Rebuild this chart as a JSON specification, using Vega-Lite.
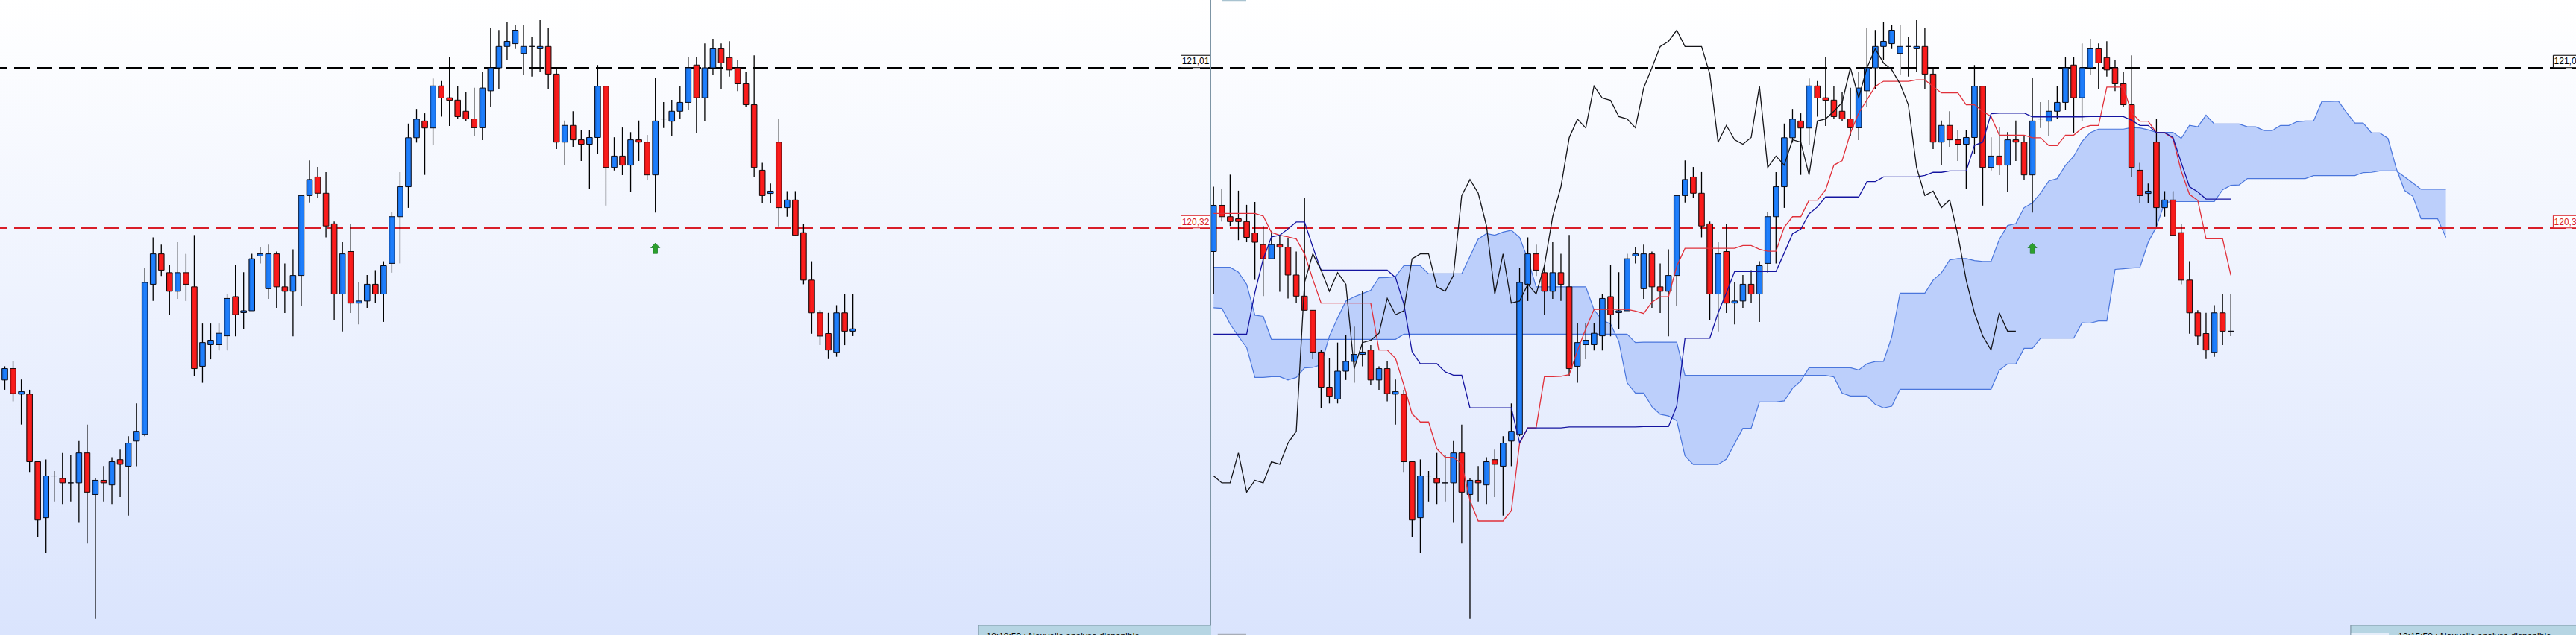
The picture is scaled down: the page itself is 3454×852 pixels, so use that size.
{
  "$schema": "https://vega.github.io/schema/vega-lite/v6.json",
  "padding": 0,
  "spacing": 0,
  "background": "#dbe5fd",
  "config": {
    "view": {"stroke": null},
    "text": {"font": "Liberation Sans"}
  },
  "datasets": {
    "levels": [
      {"price": 121.01, "label": "121,01"},
      {"price": 120.32, "label": "120,32"}
    ],
    "signals": [{"i": 79, "price": 120.233}],
    "candles": [
      {"i": -20, "open": 120.219, "close": 120.418, "high": 120.498, "low": 120.036},
      {"i": -19, "open": 120.418, "close": 120.369, "high": 120.489, "low": 120.348},
      {"i": -18, "open": 120.369, "close": 120.348, "high": 120.550, "low": 120.329},
      {"i": -17, "open": 120.360, "close": 120.348, "high": 120.481, "low": 120.268},
      {"i": -16, "open": 120.348, "close": 120.280, "high": 120.420, "low": 120.259},
      {"i": -15, "open": 120.299, "close": 120.259, "high": 120.432, "low": 120.097},
      {"i": -14, "open": 120.249, "close": 120.188, "high": 120.329, "low": 120.027},
      {"i": -13, "open": 120.188, "close": 120.249, "high": 120.308, "low": 120.188},
      {"i": -12, "open": 120.249, "close": 120.238, "high": 120.289, "low": 120.046},
      {"i": -11, "open": 120.238, "close": 120.118, "high": 120.278, "low": 120.017},
      {"i": -10, "open": 120.118, "close": 120.027, "high": 120.219, "low": 119.997},
      {"i": -9, "open": 120.027, "close": 119.966, "high": 120.449, "low": 119.966},
      {"i": -8, "open": 119.966, "close": 119.786, "high": 119.966, "low": 119.755},
      {"i": -7, "open": 119.786, "close": 119.635, "high": 119.795, "low": 119.544},
      {"i": -6, "open": 119.635, "close": 119.596, "high": 119.759, "low": 119.565},
      {"i": -5, "open": 119.584, "close": 119.704, "high": 119.827, "low": 119.565},
      {"i": -4, "open": 119.704, "close": 119.746, "high": 119.858, "low": 119.666},
      {"i": -3, "open": 119.746, "close": 119.776, "high": 119.896, "low": 119.654},
      {"i": -2, "open": 119.776, "close": 119.786, "high": 120.050, "low": 119.725},
      {"i": -1, "open": 119.795, "close": 119.666, "high": 119.816, "low": 119.645},
      {"i": 0, "open": 119.666, "close": 119.715, "high": 119.725, "low": 119.624},
      {"i": 1, "open": 119.715, "close": 119.607, "high": 119.746, "low": 119.574},
      {"i": 2, "open": 119.605, "close": 119.616, "high": 119.668, "low": 119.474},
      {"i": 3, "open": 119.605, "close": 119.314, "high": 119.624, "low": 119.270},
      {"i": 4, "open": 119.314, "close": 119.063, "high": 119.314, "low": 118.991},
      {"i": 5, "open": 119.073, "close": 119.253, "high": 119.324, "low": 118.921},
      {"i": 6, "open": 119.253, "close": 119.253, "high": 119.274, "low": 119.143},
      {"i": 7, "open": 119.242, "close": 119.223, "high": 119.352, "low": 119.132},
      {"i": 8, "open": 119.223, "close": 119.223, "high": 119.344, "low": 119.143},
      {"i": 9, "open": 119.223, "close": 119.352, "high": 119.403, "low": 119.051},
      {"i": 10, "open": 119.352, "close": 119.183, "high": 119.474, "low": 118.962},
      {"i": 11, "open": 119.173, "close": 119.234, "high": 119.242, "low": 118.639},
      {"i": 12, "open": 119.234, "close": 119.223, "high": 119.296, "low": 119.143},
      {"i": 13, "open": 119.214, "close": 119.314, "high": 119.333, "low": 119.132},
      {"i": 14, "open": 119.323, "close": 119.303, "high": 119.366, "low": 119.162},
      {"i": 15, "open": 119.295, "close": 119.394, "high": 119.424, "low": 119.082},
      {"i": 16, "open": 119.403, "close": 119.445, "high": 119.565, "low": 119.295},
      {"i": 17, "open": 119.432, "close": 120.086, "high": 120.149, "low": 119.424},
      {"i": 18, "open": 120.078, "close": 120.209, "high": 120.280, "low": 120.006},
      {"i": 19, "open": 120.209, "close": 120.139, "high": 120.249, "low": 120.114},
      {"i": 20, "open": 120.128, "close": 120.048, "high": 120.160, "low": 119.945},
      {"i": 21, "open": 120.048, "close": 120.128, "high": 120.259, "low": 120.015},
      {"i": 22, "open": 120.128, "close": 120.078, "high": 120.209, "low": 120.006},
      {"i": 23, "open": 120.067, "close": 119.715, "high": 120.290, "low": 119.684},
      {"i": 24, "open": 119.725, "close": 119.827, "high": 119.909, "low": 119.654},
      {"i": 25, "open": 119.818, "close": 119.837, "high": 119.909, "low": 119.755},
      {"i": 26, "open": 119.818, "close": 119.867, "high": 119.909, "low": 119.793},
      {"i": 27, "open": 119.856, "close": 120.017, "high": 120.036, "low": 119.793},
      {"i": 28, "open": 120.025, "close": 119.947, "high": 120.160, "low": 119.854},
      {"i": 29, "open": 119.956, "close": 119.964, "high": 120.130, "low": 119.886},
      {"i": 30, "open": 119.964, "close": 120.188, "high": 120.209, "low": 119.964},
      {"i": 31, "open": 120.200, "close": 120.209, "high": 120.240, "low": 120.168},
      {"i": 32, "open": 120.059, "close": 120.209, "high": 120.249, "low": 120.015},
      {"i": 33, "open": 120.209, "close": 120.067, "high": 120.219, "low": 119.977},
      {"i": 34, "open": 120.067, "close": 120.048, "high": 120.168, "low": 119.954},
      {"i": 35, "open": 120.048, "close": 120.116, "high": 120.229, "low": 119.854},
      {"i": 36, "open": 120.116, "close": 120.460, "high": 120.460, "low": 119.985},
      {"i": 37, "open": 120.460, "close": 120.529, "high": 120.611, "low": 120.430},
      {"i": 38, "open": 120.540, "close": 120.470, "high": 120.583, "low": 120.449},
      {"i": 39, "open": 120.470, "close": 120.329, "high": 120.561, "low": 120.280},
      {"i": 40, "open": 120.338, "close": 120.036, "high": 120.348, "low": 119.924},
      {"i": 41, "open": 120.036, "close": 120.209, "high": 120.259, "low": 119.875},
      {"i": 42, "open": 120.219, "close": 119.997, "high": 120.339, "low": 119.954},
      {"i": 43, "open": 119.997, "close": 120.006, "high": 120.088, "low": 119.905},
      {"i": 44, "open": 120.006, "close": 120.078, "high": 120.118, "low": 119.977},
      {"i": 45, "open": 120.078, "close": 120.036, "high": 120.139, "low": 119.997},
      {"i": 46, "open": 120.036, "close": 120.158, "high": 120.177, "low": 119.916},
      {"i": 47, "open": 120.168, "close": 120.369, "high": 120.390, "low": 120.128},
      {"i": 48, "open": 120.369, "close": 120.498, "high": 120.561, "low": 120.168},
      {"i": 49, "open": 120.498, "close": 120.709, "high": 120.770, "low": 120.407},
      {"i": 50, "open": 120.709, "close": 120.789, "high": 120.833, "low": 120.688},
      {"i": 51, "open": 120.781, "close": 120.751, "high": 120.814, "low": 120.549},
      {"i": 52, "open": 120.751, "close": 120.932, "high": 120.964, "low": 120.679},
      {"i": 53, "open": 120.932, "close": 120.880, "high": 120.953, "low": 120.800},
      {"i": 54, "open": 120.881, "close": 120.870, "high": 121.055, "low": 120.760},
      {"i": 55, "open": 120.871, "close": 120.800, "high": 120.932, "low": 120.790},
      {"i": 56, "open": 120.823, "close": 120.790, "high": 120.904, "low": 120.779},
      {"i": 57, "open": 120.790, "close": 120.752, "high": 120.924, "low": 120.717},
      {"i": 58, "open": 120.752, "close": 120.923, "high": 120.994, "low": 120.699},
      {"i": 59, "open": 120.911, "close": 121.010, "high": 121.183, "low": 120.840},
      {"i": 60, "open": 121.010, "close": 121.102, "high": 121.173, "low": 120.920},
      {"i": 61, "open": 121.102, "close": 121.124, "high": 121.206, "low": 121.042},
      {"i": 62, "open": 121.114, "close": 121.172, "high": 121.196, "low": 121.091},
      {"i": 63, "open": 121.072, "close": 121.102, "high": 121.196, "low": 120.981},
      {"i": 64, "open": 121.102, "close": 121.102, "high": 121.145, "low": 120.972},
      {"i": 65, "open": 121.092, "close": 121.102, "high": 121.215, "low": 120.991},
      {"i": 66, "open": 121.102, "close": 120.983, "high": 121.183, "low": 120.920},
      {"i": 67, "open": 120.983, "close": 120.690, "high": 121.010, "low": 120.660},
      {"i": 68, "open": 120.690, "close": 120.762, "high": 120.783, "low": 120.590},
      {"i": 69, "open": 120.762, "close": 120.700, "high": 120.823, "low": 120.670},
      {"i": 70, "open": 120.700, "close": 120.681, "high": 120.742, "low": 120.609},
      {"i": 71, "open": 120.681, "close": 120.710, "high": 120.742, "low": 120.487},
      {"i": 72, "open": 120.710, "close": 120.931, "high": 121.022, "low": 120.638},
      {"i": 73, "open": 120.931, "close": 120.581, "high": 120.931, "low": 120.417},
      {"i": 74, "open": 120.581, "close": 120.630, "high": 120.711, "low": 120.568},
      {"i": 75, "open": 120.630, "close": 120.591, "high": 120.753, "low": 120.548},
      {"i": 76, "open": 120.591, "close": 120.700, "high": 120.733, "low": 120.477},
      {"i": 77, "open": 120.700, "close": 120.690, "high": 120.783, "low": 120.609},
      {"i": 78, "open": 120.690, "close": 120.549, "high": 120.721, "low": 120.528},
      {"i": 79, "open": 120.549, "close": 120.781, "high": 120.966, "low": 120.387},
      {"i": 80, "open": 120.790, "close": 120.790, "high": 120.862, "low": 120.751},
      {"i": 81, "open": 120.780, "close": 120.823, "high": 120.872, "low": 120.717},
      {"i": 82, "open": 120.823, "close": 120.861, "high": 120.932, "low": 120.789},
      {"i": 83, "open": 120.861, "close": 121.010, "high": 121.055, "low": 120.830},
      {"i": 84, "open": 121.022, "close": 120.881, "high": 121.055, "low": 120.731},
      {"i": 85, "open": 120.881, "close": 121.010, "high": 121.115, "low": 120.779},
      {"i": 86, "open": 121.010, "close": 121.092, "high": 121.135, "low": 120.981},
      {"i": 87, "open": 121.092, "close": 121.031, "high": 121.115, "low": 120.920},
      {"i": 88, "open": 121.054, "close": 121.001, "high": 121.125, "low": 120.972},
      {"i": 89, "open": 121.010, "close": 120.941, "high": 121.045, "low": 120.910},
      {"i": 90, "open": 120.941, "close": 120.851, "high": 120.994, "low": 120.840},
      {"i": 91, "open": 120.851, "close": 120.581, "high": 121.064, "low": 120.538},
      {"i": 92, "open": 120.569, "close": 120.460, "high": 120.601, "low": 120.429},
      {"i": 93, "open": 120.469, "close": 120.479, "high": 120.512, "low": 120.429},
      {"i": 94, "open": 120.690, "close": 120.408, "high": 120.790, "low": 120.327},
      {"i": 95, "open": 120.408, "close": 120.441, "high": 120.479, "low": 120.369},
      {"i": 96, "open": 120.441, "close": 120.289, "high": 120.479, "low": 120.289},
      {"i": 97, "open": 120.300, "close": 120.096, "high": 120.338, "low": 120.078},
      {"i": 98, "open": 120.096, "close": 119.955, "high": 120.177, "low": 119.865},
      {"i": 99, "open": 119.955, "close": 119.855, "high": 119.966, "low": 119.816},
      {"i": 100, "open": 119.866, "close": 119.795, "high": 119.955, "low": 119.756},
      {"i": 101, "open": 119.785, "close": 119.955, "high": 119.988, "low": 119.766},
      {"i": 102, "open": 119.955, "close": 119.876, "high": 120.036, "low": 119.816},
      {"i": 103, "only": "left", "open": 119.876, "close": 119.886, "high": 120.036, "low": 119.855},
      {"i": 103, "only": "right", "open": 119.876, "close": 119.876, "high": 120.036, "low": 119.855}
    ],
    "ichimoku": [
      {"i": -20, "tenkan": 120.383, "kijun": 119.863, "chikou": 119.253, "spanA": 119.977, "spanB": 120.151},
      {"i": -19, "tenkan": 120.383, "kijun": 119.863, "chikou": 119.223, "spanA": 119.975, "spanB": 120.151},
      {"i": -18, "tenkan": 120.383, "kijun": 119.863, "chikou": 119.223, "spanA": 119.907, "spanB": 120.151},
      {"i": -17, "tenkan": 120.383, "kijun": 119.863, "chikou": 119.352, "spanA": 119.854, "spanB": 120.130},
      {"i": -16, "tenkan": 120.383, "kijun": 119.863, "chikou": 119.183, "spanA": 119.806, "spanB": 120.078},
      {"i": -15, "tenkan": 120.383, "kijun": 120.043, "chikou": 119.234, "spanA": 119.677, "spanB": 119.945},
      {"i": -14, "tenkan": 120.372, "kijun": 120.186, "chikou": 119.223, "spanA": 119.677, "spanB": 119.940},
      {"i": -13, "tenkan": 120.301, "kijun": 120.282, "chikou": 119.314, "spanA": 119.680, "spanB": 119.841},
      {"i": -12, "tenkan": 120.289, "kijun": 120.289, "chikou": 119.303, "spanA": 119.680, "spanB": 119.841},
      {"i": -11, "tenkan": 120.282, "kijun": 120.317, "chikou": 119.394, "spanA": 119.666, "spanB": 119.841},
      {"i": -10, "tenkan": 120.273, "kijun": 120.346, "chikou": 119.445, "spanA": 119.677, "spanB": 119.841},
      {"i": -9, "tenkan": 120.209, "kijun": 120.346, "chikou": 120.086, "spanA": 119.718, "spanB": 119.841},
      {"i": -8, "tenkan": 120.099, "kijun": 120.238, "chikou": 120.209, "spanA": 119.720, "spanB": 119.841},
      {"i": -7, "tenkan": 119.997, "kijun": 120.139, "chikou": 120.139, "spanA": 119.732, "spanB": 119.841},
      {"i": -6, "tenkan": 119.997, "kijun": 120.139, "chikou": 120.048, "spanA": 119.854, "spanB": 119.841},
      {"i": -5, "tenkan": 119.997, "kijun": 120.139, "chikou": 120.128, "spanA": 119.933, "spanB": 119.841},
      {"i": -4, "tenkan": 119.997, "kijun": 120.139, "chikou": 120.078, "spanA": 120.006, "spanB": 119.841},
      {"i": -3, "tenkan": 119.997, "kijun": 120.139, "chikou": 119.715, "spanA": 120.024, "spanB": 119.841},
      {"i": -2, "tenkan": 119.997, "kijun": 120.139, "chikou": 119.827, "spanA": 120.038, "spanB": 119.841},
      {"i": -1, "tenkan": 119.997, "kijun": 120.139, "chikou": 119.837, "spanA": 120.052, "spanB": 119.841},
      {"i": 0, "tenkan": 119.795, "kijun": 120.139, "chikou": 119.867, "spanA": 120.106, "spanB": 119.841},
      {"i": 1, "tenkan": 119.795, "kijun": 120.139, "chikou": 120.017, "spanA": 120.107, "spanB": 119.841},
      {"i": 2, "tenkan": 119.759, "kijun": 120.107, "chikou": 119.947, "spanA": 120.111, "spanB": 119.841},
      {"i": 3, "tenkan": 119.645, "kijun": 119.994, "chikou": 119.964, "spanA": 120.158, "spanB": 119.863},
      {"i": 4, "tenkan": 119.520, "kijun": 119.788, "chikou": 120.188, "spanA": 120.158, "spanB": 119.863},
      {"i": 5, "tenkan": 119.485, "kijun": 119.736, "chikou": 120.209, "spanA": 120.158, "spanB": 119.863},
      {"i": 6, "tenkan": 119.485, "kijun": 119.736, "chikou": 120.209, "spanA": 120.123, "spanB": 119.863},
      {"i": 7, "tenkan": 119.370, "kijun": 119.736, "chikou": 120.067, "spanA": 120.123, "spanB": 119.863},
      {"i": 8, "tenkan": 119.333, "kijun": 119.701, "chikou": 120.048, "spanA": 120.123, "spanB": 119.863},
      {"i": 9, "tenkan": 119.333, "kijun": 119.687, "chikou": 120.116, "spanA": 120.123, "spanB": 119.863},
      {"i": 10, "tenkan": 119.305, "kijun": 119.687, "chikou": 120.460, "spanA": 120.123, "spanB": 119.863},
      {"i": 11, "tenkan": 119.148, "kijun": 119.546, "chikou": 120.529, "spanA": 120.198, "spanB": 119.863},
      {"i": 12, "tenkan": 119.059, "kijun": 119.546, "chikou": 120.470, "spanA": 120.273, "spanB": 119.863},
      {"i": 13, "tenkan": 119.059, "kijun": 119.546, "chikou": 120.329, "spanA": 120.296, "spanB": 119.863},
      {"i": 14, "tenkan": 119.059, "kijun": 119.546, "chikou": 120.036, "spanA": 120.289, "spanB": 119.863},
      {"i": 15, "tenkan": 119.059, "kijun": 119.546, "chikou": 120.209, "spanA": 120.303, "spanB": 119.863},
      {"i": 16, "tenkan": 119.103, "kijun": 119.546, "chikou": 119.997, "spanA": 120.311, "spanB": 119.863},
      {"i": 17, "tenkan": 119.392, "kijun": 119.396, "chikou": 120.006, "spanA": 120.280, "spanB": 119.863},
      {"i": 18, "tenkan": 119.460, "kijun": 119.460, "chikou": 120.078, "spanA": 120.186, "spanB": 119.863},
      {"i": 19, "tenkan": 119.460, "kijun": 119.460, "chikou": 120.036, "spanA": 120.067, "spanB": 119.863},
      {"i": 20, "tenkan": 119.680, "kijun": 119.460, "chikou": 120.158, "spanA": 120.067, "spanB": 119.863},
      {"i": 21, "tenkan": 119.680, "kijun": 119.460, "chikou": 120.369, "spanA": 120.067, "spanB": 119.863},
      {"i": 22, "tenkan": 119.682, "kijun": 119.460, "chikou": 120.498, "spanA": 120.067, "spanB": 119.863},
      {"i": 23, "tenkan": 119.689, "kijun": 119.464, "chikou": 120.709, "spanA": 120.067, "spanB": 119.863},
      {"i": 24, "tenkan": 119.793, "kijun": 119.464, "chikou": 120.789, "spanA": 120.067, "spanB": 119.863},
      {"i": 25, "tenkan": 119.886, "kijun": 119.464, "chikou": 120.751, "spanA": 120.067, "spanB": 119.863},
      {"i": 26, "tenkan": 119.970, "kijun": 119.464, "chikou": 120.932, "spanA": 119.968, "spanB": 119.863},
      {"i": 27, "tenkan": 119.970, "kijun": 119.464, "chikou": 120.880, "spanA": 119.924, "spanB": 119.863},
      {"i": 28, "tenkan": 119.970, "kijun": 119.464, "chikou": 120.870, "spanA": 119.907, "spanB": 119.863},
      {"i": 29, "tenkan": 119.970, "kijun": 119.464, "chikou": 120.800, "spanA": 119.832, "spanB": 119.863},
      {"i": 30, "tenkan": 119.970, "kijun": 119.464, "chikou": 120.790, "spanA": 119.654, "spanB": 119.863},
      {"i": 31, "tenkan": 119.963, "kijun": 119.464, "chikou": 120.752, "spanA": 119.610, "spanB": 119.827},
      {"i": 32, "tenkan": 119.952, "kijun": 119.465, "chikou": 120.923, "spanA": 119.610, "spanB": 119.829},
      {"i": 33, "tenkan": 120.001, "kijun": 119.465, "chikou": 121.010, "spanA": 119.551, "spanB": 119.829},
      {"i": 34, "tenkan": 120.024, "kijun": 119.465, "chikou": 121.102, "spanA": 119.518, "spanB": 119.829},
      {"i": 35, "tenkan": 120.024, "kijun": 119.465, "chikou": 121.124, "spanA": 119.511, "spanB": 119.829},
      {"i": 36, "tenkan": 120.156, "kijun": 119.554, "chikou": 121.172, "spanA": 119.491, "spanB": 119.829},
      {"i": 37, "tenkan": 120.233, "kijun": 119.846, "chikou": 121.102, "spanA": 119.339, "spanB": 119.686},
      {"i": 38, "tenkan": 120.233, "kijun": 119.846, "chikou": 121.102, "spanA": 119.302, "spanB": 119.686},
      {"i": 39, "tenkan": 120.233, "kijun": 119.846, "chikou": 121.102, "spanA": 119.302, "spanB": 119.686},
      {"i": 40, "tenkan": 120.233, "kijun": 119.846, "chikou": 120.983, "spanA": 119.302, "spanB": 119.686},
      {"i": 41, "tenkan": 120.233, "kijun": 119.955, "chikou": 120.690, "spanA": 119.302, "spanB": 119.686},
      {"i": 42, "tenkan": 120.233, "kijun": 120.041, "chikou": 120.762, "spanA": 119.325, "spanB": 119.686},
      {"i": 43, "tenkan": 120.233, "kijun": 120.133, "chikou": 120.700, "spanA": 119.392, "spanB": 119.686},
      {"i": 44, "tenkan": 120.245, "kijun": 120.133, "chikou": 120.681, "spanA": 119.458, "spanB": 119.686},
      {"i": 45, "tenkan": 120.245, "kijun": 120.133, "chikou": 120.710, "spanA": 119.458, "spanB": 119.686},
      {"i": 46, "tenkan": 120.229, "kijun": 120.133, "chikou": 120.931, "spanA": 119.571, "spanB": 119.686},
      {"i": 47, "tenkan": 120.220, "kijun": 120.133, "chikou": 120.581, "spanA": 119.571, "spanB": 119.686},
      {"i": 48, "tenkan": 120.220, "kijun": 120.133, "chikou": 120.630, "spanA": 119.571, "spanB": 119.686},
      {"i": 49, "tenkan": 120.324, "kijun": 120.213, "chikou": 120.591, "spanA": 119.576, "spanB": 119.686},
      {"i": 50, "tenkan": 120.369, "kijun": 120.295, "chikou": 120.700, "spanA": 119.630, "spanB": 119.686},
      {"i": 51, "tenkan": 120.369, "kijun": 120.316, "chikou": 120.690, "spanA": 119.662, "spanB": 119.686},
      {"i": 52, "tenkan": 120.440, "kijun": 120.381, "chikou": 120.549, "spanA": 119.719, "spanB": 119.686},
      {"i": 53, "tenkan": 120.440, "kijun": 120.411, "chikou": 120.781, "spanA": 119.719, "spanB": 119.686},
      {"i": 54, "tenkan": 120.485, "kijun": 120.454, "chikou": 120.790, "spanA": 119.719, "spanB": 119.686},
      {"i": 55, "tenkan": 120.591, "kijun": 120.454, "chikou": 120.823, "spanA": 119.719, "spanB": 119.679},
      {"i": 56, "tenkan": 120.610, "kijun": 120.454, "chikou": 120.861, "spanA": 119.719, "spanB": 119.609},
      {"i": 57, "tenkan": 120.729, "kijun": 120.454, "chikou": 121.010, "spanA": 119.719, "spanB": 119.597},
      {"i": 58, "tenkan": 120.815, "kijun": 120.454, "chikou": 120.881, "spanA": 119.709, "spanB": 119.597},
      {"i": 59, "tenkan": 120.872, "kijun": 120.520, "chikou": 121.010, "spanA": 119.736, "spanB": 119.597},
      {"i": 60, "tenkan": 120.930, "kijun": 120.520, "chikou": 121.092, "spanA": 119.745, "spanB": 119.561},
      {"i": 61, "tenkan": 120.952, "kijun": 120.540, "chikou": 121.031, "spanA": 119.746, "spanB": 119.546},
      {"i": 62, "tenkan": 120.952, "kijun": 120.540, "chikou": 121.001, "spanA": 119.852, "spanB": 119.553},
      {"i": 63, "tenkan": 120.952, "kijun": 120.540, "chikou": 120.941, "spanA": 120.040, "spanB": 119.626},
      {"i": 64, "tenkan": 120.952, "kijun": 120.540, "chikou": 120.851, "spanA": 120.040, "spanB": 119.626},
      {"i": 65, "tenkan": 120.958, "kijun": 120.540, "chikou": 120.581, "spanA": 120.040, "spanB": 119.626},
      {"i": 66, "tenkan": 120.958, "kijun": 120.547, "chikou": 120.460, "spanA": 120.040, "spanB": 119.626},
      {"i": 67, "tenkan": 120.930, "kijun": 120.560, "chikou": 120.479, "spanA": 120.096, "spanB": 119.626},
      {"i": 68, "tenkan": 120.902, "kijun": 120.560, "chikou": 120.408, "spanA": 120.127, "spanB": 119.626},
      {"i": 69, "tenkan": 120.902, "kijun": 120.566, "chikou": 120.441, "spanA": 120.183, "spanB": 119.626},
      {"i": 70, "tenkan": 120.902, "kijun": 120.566, "chikou": 120.289, "spanA": 120.189, "spanB": 119.626},
      {"i": 71, "tenkan": 120.851, "kijun": 120.566, "chikou": 120.096, "spanA": 120.189, "spanB": 119.626},
      {"i": 72, "tenkan": 120.851, "kijun": 120.676, "chikou": 119.955, "spanA": 120.180, "spanB": 119.626},
      {"i": 73, "tenkan": 120.822, "kijun": 120.690, "chikou": 119.855, "spanA": 120.176, "spanB": 119.626},
      {"i": 74, "tenkan": 120.801, "kijun": 120.812, "chikou": 119.795, "spanA": 120.176, "spanB": 119.626},
      {"i": 75, "tenkan": 120.720, "kijun": 120.815, "chikou": 119.955, "spanA": 120.271, "spanB": 119.708},
      {"i": 76, "tenkan": 120.720, "kijun": 120.815, "chikou": 119.876, "spanA": 120.331, "spanB": 119.735},
      {"i": 77, "tenkan": 120.720, "kijun": 120.815, "chikou": 119.876, "spanA": 120.339, "spanB": 119.735},
      {"i": 78, "tenkan": 120.720, "kijun": 120.815, "spanA": 120.408, "spanB": 119.802},
      {"i": 79, "tenkan": 120.709, "kijun": 120.799, "spanA": 120.428, "spanB": 119.802},
      {"i": 80, "tenkan": 120.709, "kijun": 120.799, "spanA": 120.471, "spanB": 119.846},
      {"i": 81, "tenkan": 120.675, "kijun": 120.799, "spanA": 120.523, "spanB": 119.846},
      {"i": 82, "tenkan": 120.675, "kijun": 120.799, "spanA": 120.533, "spanB": 119.846},
      {"i": 83, "tenkan": 120.720, "kijun": 120.799, "spanA": 120.590, "spanB": 119.846},
      {"i": 84, "tenkan": 120.720, "kijun": 120.799, "spanA": 120.629, "spanB": 119.846},
      {"i": 85, "tenkan": 120.750, "kijun": 120.799, "spanA": 120.693, "spanB": 119.912},
      {"i": 86, "tenkan": 120.762, "kijun": 120.800, "spanA": 120.731, "spanB": 119.911},
      {"i": 87, "tenkan": 120.762, "kijun": 120.800, "spanA": 120.746, "spanB": 119.920},
      {"i": 88, "tenkan": 120.927, "kijun": 120.800, "spanA": 120.746, "spanB": 119.920},
      {"i": 89, "tenkan": 120.927, "kijun": 120.800, "spanA": 120.746, "spanB": 120.142},
      {"i": 90, "tenkan": 120.927, "kijun": 120.800, "spanA": 120.746, "spanB": 120.145},
      {"i": 91, "tenkan": 120.817, "kijun": 120.784, "spanA": 120.753, "spanB": 120.148},
      {"i": 92, "tenkan": 120.780, "kijun": 120.762, "spanA": 120.751, "spanB": 120.150},
      {"i": 93, "tenkan": 120.780, "kijun": 120.762, "spanA": 120.743, "spanB": 120.258},
      {"i": 94, "tenkan": 120.731, "kijun": 120.731, "spanA": 120.732, "spanB": 120.326},
      {"i": 95, "tenkan": 120.730, "kijun": 120.731, "spanA": 120.732, "spanB": 120.430},
      {"i": 96, "tenkan": 120.706, "kijun": 120.710, "spanA": 120.732, "spanB": 120.434},
      {"i": 97, "tenkan": 120.565, "kijun": 120.602, "spanA": 120.706, "spanB": 120.434},
      {"i": 98, "tenkan": 120.465, "kijun": 120.498, "spanA": 120.762, "spanB": 120.434},
      {"i": 99, "tenkan": 120.439, "kijun": 120.476, "spanA": 120.756, "spanB": 120.434},
      {"i": 100, "tenkan": 120.274, "kijun": 120.445, "spanA": 120.806, "spanB": 120.434},
      {"i": 101, "tenkan": 120.274, "kijun": 120.445, "spanA": 120.768, "spanB": 120.434},
      {"i": 102, "tenkan": 120.274, "kijun": 120.445, "spanA": 120.768, "spanB": 120.485},
      {"i": 103, "tenkan": 120.117, "kijun": 120.445, "spanA": 120.768, "spanB": 120.504},
      {"i": 104, "spanA": 120.768, "spanB": 120.506},
      {"i": 105, "spanA": 120.756, "spanB": 120.533},
      {"i": 106, "spanA": 120.756, "spanB": 120.533},
      {"i": 107, "spanA": 120.740, "spanB": 120.533},
      {"i": 108, "spanA": 120.740, "spanB": 120.533},
      {"i": 109, "spanA": 120.762, "spanB": 120.533},
      {"i": 110, "spanA": 120.762, "spanB": 120.533},
      {"i": 111, "spanA": 120.778, "spanB": 120.533},
      {"i": 112, "spanA": 120.781, "spanB": 120.533},
      {"i": 113, "spanA": 120.781, "spanB": 120.546},
      {"i": 114, "spanA": 120.865, "spanB": 120.546},
      {"i": 115, "spanA": 120.865, "spanB": 120.546},
      {"i": 116, "spanA": 120.867, "spanB": 120.546},
      {"i": 117, "spanA": 120.817, "spanB": 120.546},
      {"i": 118, "spanA": 120.772, "spanB": 120.546},
      {"i": 119, "spanA": 120.772, "spanB": 120.559},
      {"i": 120, "spanA": 120.730, "spanB": 120.560},
      {"i": 121, "spanA": 120.730, "spanB": 120.566},
      {"i": 122, "spanA": 120.706, "spanB": 120.566},
      {"i": 123, "spanA": 120.577, "spanB": 120.566},
      {"i": 124, "spanA": 120.482, "spanB": 120.541},
      {"i": 125, "spanA": 120.457, "spanB": 120.514},
      {"i": 126, "spanA": 120.360, "spanB": 120.487},
      {"i": 127, "spanA": 120.360, "spanB": 120.487},
      {"i": 128, "spanA": 120.360, "spanB": 120.487},
      {"i": 129, "spanA": 120.280, "spanB": 120.487}
    ]
  },
  "hconcat": [
    {
      "width": 1624,
      "height": 852,
      "layer": [
        {
          "data": {"values": [{"name": "backdrop"}]},
          "mark": {"type": "rect", "clip": true, "fill": {"gradient": "linear", "x1": 0, "y1": 0, "x2": 0, "y2": 1, "stops": [{"offset": 0, "color": "#ffffff"}, {"offset": 1, "color": "#dae4fd"}]}},
          "encoding": {
            "x": {"datum": -0.589, "type": "quantitative", "scale": {"domain": [-0.589, 146.51], "nice": false, "zero": false, "padding": 0}, "axis": null},
            "x2": {"datum": 146.51},
            "y": {"datum": 121.302, "type": "quantitative", "scale": {"domain": [118.568, 121.302], "nice": false, "zero": false}, "axis": null},
            "y2": {"datum": 118.568}
          }
        },
        {
          "data": {"name": "levels"},
          "mark": {"type": "rule", "strokeWidth": 2, "strokeDash": [21, 9], "strokeDashOffset": 11, "clip": true},
          "encoding": {
            "x": {"datum": -0.589, "type": "quantitative", "axis": null},
            "x2": {"datum": 146.51},
            "y": {"field": "price", "type": "quantitative", "axis": null},
            "color": {"field": "label", "type": "nominal", "scale": {"domain": ["121,01", "120,32"], "range": ["#000000", "#d81e28"]}, "legend": null}
          }
        },
        {
          "data": {"name": "candles"},
          "transform": [{"filter": "datum.i >= 0 && datum.only != 'right'"}],
          "layer": [
            {
              "mark": {"type": "rule", "color": "#000000", "strokeWidth": 1.3, "clip": true},
              "encoding": {
                "x": {"field": "i", "type": "quantitative", "axis": null},
                "y": {"field": "high", "type": "quantitative", "axis": null},
                "y2": {"field": "low"}
              }
            },
            {
              "transform": [{"filter": "datum.close >= datum.open"}],
              "mark": {"type": "bar", "width": 7.6, "clip": true, "stroke": "#0a0a14", "strokeWidth": 1, "fill": {"gradient": "linear", "x1": 0, "y1": 0, "x2": 1, "y2": 0, "stops": [{"offset": 0, "color": "#1560c8"}, {"offset": 0.4, "color": "#1e80ff"}, {"offset": 1, "color": "#1e7af5"}]}},
              "encoding": {
                "x": {"field": "i", "type": "quantitative", "axis": null},
                "y": {"field": "open", "type": "quantitative", "axis": null},
                "y2": {"field": "close"}
              }
            },
            {
              "transform": [{"filter": "datum.close < datum.open"}],
              "mark": {"type": "bar", "width": 7.6, "clip": true, "stroke": "#140a0a", "strokeWidth": 1, "fill": {"gradient": "linear", "x1": 0, "y1": 0, "x2": 1, "y2": 0, "stops": [{"offset": 0, "color": "#c81414"}, {"offset": 0.4, "color": "#ff1c1c"}, {"offset": 1, "color": "#ee1a1a"}]}},
              "encoding": {
                "x": {"field": "i", "type": "quantitative", "axis": null},
                "y": {"field": "open", "type": "quantitative", "axis": null},
                "y2": {"field": "close"}
              }
            }
          ]
        },
        {
          "data": {"name": "signals"},
          "mark": {"type": "point", "filled": true, "clip": true, "opacity": 1, "fill": "#2ca02c", "stroke": "#1a7a2a", "strokeWidth": 0.8, "size": 196, "shape": "M0,-1L0.857,-0.1L0.4,-0.1L0.4,1L-0.4,1L-0.4,-0.1L-0.857,-0.1Z"},
          "encoding": {
            "x": {"field": "i", "type": "quantitative", "axis": null},
            "y": {"field": "price", "type": "quantitative", "axis": null}
          }
        },
        {
          "data": {"name": "levels"},
          "mark": {"type": "rect", "clip": true, "width": 39, "height": 16.5, "yOffset": -8.5, "fill": "#ffffff", "strokeWidth": 1},
          "encoding": {
            "x": {"datum": 144.61, "type": "quantitative", "axis": null},
            "y": {"field": "price", "type": "quantitative", "axis": null},
            "stroke": {"field": "label", "type": "nominal", "scale": {"domain": ["121,01", "120,32"], "range": ["#000000", "#d81e28"]}, "legend": null}
          }
        },
        {
          "data": {"name": "levels"},
          "mark": {"type": "text", "clip": true, "fontSize": 12, "align": "center", "baseline": "middle", "dy": -8.5},
          "encoding": {
            "x": {"datum": 144.61, "type": "quantitative", "axis": null},
            "y": {"field": "price", "type": "quantitative", "axis": null},
            "text": {"field": "label"},
            "color": {"field": "label", "type": "nominal", "scale": {"domain": ["121,01", "120,32"], "range": ["#000000", "#d81e28"]}, "legend": null}
          }
        },
        {
          "data": {"values": [{"name": "status"}]},
          "mark": {"type": "rect", "clip": true, "fill": "#b6d5e3", "stroke": "#7d95a5", "strokeWidth": 1.2},
          "encoding": {
            "x": {"datum": 118.25, "type": "quantitative", "axis": null},
            "x2": {"datum": 146.6},
            "y": {"datum": 118.61, "type": "quantitative", "axis": null},
            "y2": {"datum": 118.55}
          }
        },
        {
          "data": {"values": [{"message": "18:18:59 : Nouvelle analyse disponible"}]},
          "mark": {"type": "text", "fontSize": 12, "align": "left", "baseline": "top", "color": "#000000", "clip": true},
          "encoding": {
            "x": {"datum": 119.2, "type": "quantitative", "axis": null},
            "y": {"datum": 118.578, "type": "quantitative", "axis": null},
            "text": {"field": "message"}
          }
        },
        {
          "data": {"values": [{"name": "border"}]},
          "mark": {"type": "rule", "color": "#7d95a5", "strokeWidth": 1.5, "clip": true},
          "encoding": {
            "x": {"datum": 146.46, "type": "quantitative", "axis": null},
            "y": {"datum": 121.302, "type": "quantitative", "axis": null},
            "y2": {"datum": 118.61}
          }
        }
      ]
    },
    {
      "width": 1830,
      "height": 852,
      "layer": [
        {
          "data": {"values": [{"name": "backdrop"}]},
          "mark": {"type": "rect", "clip": true, "fill": {"gradient": "linear", "x1": 0, "y1": 0, "x2": 0, "y2": 1, "stops": [{"offset": 0, "color": "#ffffff"}, {"offset": 1, "color": "#dae4fd"}]}},
          "encoding": {
            "x": {"datum": -20.289, "type": "quantitative", "scale": {"domain": [-20.289, 144.73], "nice": false, "zero": false, "padding": 0}, "axis": null},
            "x2": {"datum": 144.73},
            "y": {"datum": 121.302, "type": "quantitative", "scale": {"domain": [118.568, 121.302], "nice": false, "zero": false}, "axis": null},
            "y2": {"datum": 118.568}
          }
        },
        {
          "data": {"name": "ichimoku"},
          "layer": [
            {
              "mark": {"type": "area", "clip": true, "fill": "#bccffb", "opacity": 1, "line": false},
              "encoding": {
                "x": {"field": "i", "type": "quantitative", "axis": null},
                "y": {"field": "spanA", "type": "quantitative", "axis": null},
                "y2": {"field": "spanB"}
              }
            },
            {
              "mark": {"type": "line", "color": "#4a76dc", "strokeWidth": 1.2, "clip": true},
              "encoding": {
                "x": {"field": "i", "type": "quantitative", "axis": null},
                "y": {"field": "spanA", "type": "quantitative", "axis": null}
              }
            },
            {
              "mark": {"type": "line", "color": "#4a76dc", "strokeWidth": 1.2, "clip": true},
              "encoding": {
                "x": {"field": "i", "type": "quantitative", "axis": null},
                "y": {"field": "spanB", "type": "quantitative", "axis": null}
              }
            }
          ]
        },
        {
          "data": {"name": "levels"},
          "mark": {"type": "rule", "strokeWidth": 2, "strokeDash": [21, 9], "strokeDashOffset": 5, "clip": true},
          "encoding": {
            "x": {"datum": -20.289, "type": "quantitative", "axis": null},
            "x2": {"datum": 144.73},
            "y": {"field": "price", "type": "quantitative", "axis": null},
            "color": {"field": "label", "type": "nominal", "scale": {"domain": ["121,01", "120,32"], "range": ["#000000", "#d81e28"]}, "legend": null}
          }
        },
        {
          "data": {"name": "candles"},
          "transform": [{"filter": "datum.only != 'left'"}],
          "layer": [
            {
              "mark": {"type": "rule", "color": "#000000", "strokeWidth": 1.3, "clip": true},
              "encoding": {
                "x": {"field": "i", "type": "quantitative", "axis": null},
                "y": {"field": "high", "type": "quantitative", "axis": null},
                "y2": {"field": "low"}
              }
            },
            {
              "transform": [{"filter": "datum.close >= datum.open"}],
              "mark": {"type": "bar", "width": 7.6, "clip": true, "stroke": "#0a0a14", "strokeWidth": 1, "fill": {"gradient": "linear", "x1": 0, "y1": 0, "x2": 1, "y2": 0, "stops": [{"offset": 0, "color": "#1560c8"}, {"offset": 0.4, "color": "#1e80ff"}, {"offset": 1, "color": "#1e7af5"}]}},
              "encoding": {
                "x": {"field": "i", "type": "quantitative", "axis": null},
                "y": {"field": "open", "type": "quantitative", "axis": null},
                "y2": {"field": "close"}
              }
            },
            {
              "transform": [{"filter": "datum.close < datum.open"}],
              "mark": {"type": "bar", "width": 7.6, "clip": true, "stroke": "#140a0a", "strokeWidth": 1, "fill": {"gradient": "linear", "x1": 0, "y1": 0, "x2": 1, "y2": 0, "stops": [{"offset": 0, "color": "#c81414"}, {"offset": 0.4, "color": "#ff1c1c"}, {"offset": 1, "color": "#ee1a1a"}]}},
              "encoding": {
                "x": {"field": "i", "type": "quantitative", "axis": null},
                "y": {"field": "open", "type": "quantitative", "axis": null},
                "y2": {"field": "close"}
              }
            }
          ]
        },
        {
          "data": {"name": "ichimoku"},
          "layer": [
            {
              "mark": {"type": "line", "color": "#e0303a", "strokeWidth": 1.3, "clip": true},
              "encoding": {
                "x": {"field": "i", "type": "quantitative", "axis": null},
                "y": {"field": "tenkan", "type": "quantitative", "axis": null}
              }
            },
            {
              "mark": {"type": "line", "color": "#1414a0", "strokeWidth": 1.3, "clip": true},
              "encoding": {
                "x": {"field": "i", "type": "quantitative", "axis": null},
                "y": {"field": "kijun", "type": "quantitative", "axis": null}
              }
            },
            {
              "mark": {"type": "line", "color": "#141418", "strokeWidth": 1.3, "clip": true},
              "encoding": {
                "x": {"field": "i", "type": "quantitative", "axis": null},
                "y": {"field": "chikou", "type": "quantitative", "axis": null}
              }
            }
          ]
        },
        {
          "data": {"name": "signals"},
          "mark": {"type": "point", "filled": true, "clip": true, "opacity": 1, "fill": "#2ca02c", "stroke": "#1a7a2a", "strokeWidth": 0.8, "size": 196, "shape": "M0,-1L0.857,-0.1L0.4,-0.1L0.4,1L-0.4,1L-0.4,-0.1L-0.857,-0.1Z"},
          "encoding": {
            "x": {"field": "i", "type": "quantitative", "axis": null},
            "y": {"field": "price", "type": "quantitative", "axis": null}
          }
        },
        {
          "data": {"name": "levels"},
          "mark": {"type": "rect", "width": 39, "height": 16.5, "yOffset": -8.5, "fill": "#ffffff", "strokeWidth": 1, "clip": true},
          "encoding": {
            "x": {"datum": 143.73, "type": "quantitative", "axis": null},
            "y": {"field": "price", "type": "quantitative", "axis": null},
            "stroke": {"field": "label", "type": "nominal", "scale": {"domain": ["121,01", "120,32"], "range": ["#000000", "#d81e28"]}, "legend": null}
          }
        },
        {
          "data": {"name": "levels"},
          "mark": {"type": "text", "fontSize": 12, "align": "center", "baseline": "middle", "dy": -8.5, "clip": true},
          "encoding": {
            "x": {"datum": 143.73, "type": "quantitative", "axis": null},
            "y": {"field": "price", "type": "quantitative", "axis": null},
            "text": {"field": "label"},
            "color": {"field": "label", "type": "nominal", "scale": {"domain": ["121,01", "120,32"], "range": ["#000000", "#d81e28"]}, "legend": null}
          }
        },
        {
          "data": {"values": [{"name": "status"}]},
          "mark": {"type": "rect", "fill": "#b6d5e3", "stroke": "#7d95a5", "strokeWidth": 1.2, "clip": true},
          "encoding": {
            "x": {"datum": 117.49, "type": "quantitative", "axis": null},
            "x2": {"datum": 146},
            "y": {"datum": 118.61, "type": "quantitative", "axis": null},
            "y2": {"datum": 118.55}
          }
        },
        {
          "data": {"values": [{"name": "status block"}]},
          "mark": {"type": "rect", "fill": "#e6eefa", "clip": true},
          "encoding": {
            "x": {"datum": 117.55, "type": "quantitative", "axis": null},
            "x2": {"datum": 122.1},
            "y": {"datum": 118.578, "type": "quantitative", "axis": null},
            "y2": {"datum": 118.55}
          }
        },
        {
          "data": {"values": [{"message": "12:15:50 : Nouvelle analyse disponible"}]},
          "mark": {"type": "text", "fontSize": 12, "align": "left", "baseline": "top", "color": "#000000", "clip": true},
          "encoding": {
            "x": {"datum": 123.2, "type": "quantitative", "axis": null},
            "y": {"datum": 118.578, "type": "quantitative", "axis": null},
            "text": {"field": "message"}
          }
        },
        {
          "data": {"values": [{"name": "top tab"}]},
          "mark": {"type": "rect", "fill": "#a9c3d0", "clip": true},
          "encoding": {
            "x": {"datum": -18.94, "type": "quantitative", "axis": null},
            "x2": {"datum": -16.05},
            "y": {"datum": 121.31, "type": "quantitative", "axis": null},
            "y2": {"datum": 121.295}
          }
        },
        {
          "data": {"values": [{"name": "bottom tab"}]},
          "mark": {"type": "rect", "fill": "#a7adb8", "clip": true},
          "encoding": {
            "x": {"datum": -19.5, "type": "quantitative", "axis": null},
            "x2": {"datum": -16.05},
            "y": {"datum": 118.575, "type": "quantitative", "axis": null},
            "y2": {"datum": 118.55}
          }
        }
      ]
    }
  ]
}
